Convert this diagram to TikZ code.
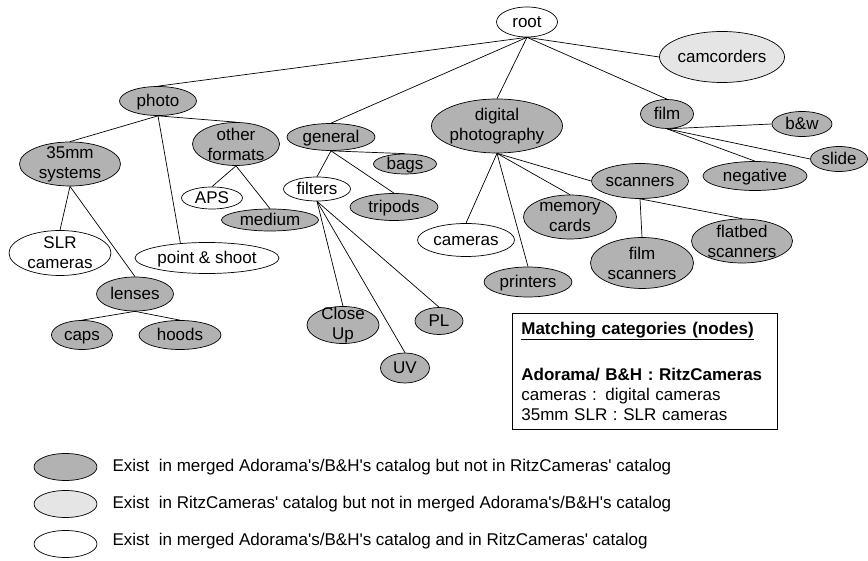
\documentclass[tikz,border=0pt]{standalone}
\usepackage{fontspec}
\setmainfont{Liberation Sans}
\usetikzlibrary{positioning,shapes.geometric}
\definecolor{catdark}{gray}{0.70}
\definecolor{catlight}{gray}{0.90}
\tikzset{
    %Define style for category nodes
    catnode/.style={
             ellipse,
             draw=black, line width=0.7pt,
             inner xsep=-8pt, inner ysep=-6pt,
             text height=13pt, text depth=2.5pt,
             align=center},
    mergednode/.style={catnode, fill=catdark},
    ritznode/.style={catnode, fill=catlight},
    bothnode/.style={catnode, fill=white},
    twolines/.style={text height=, text depth=},
    dims/.style 2 args={minimum width=#1, minimum height=#2},
    % Define line style
    catline/.style={
            line width=0.7pt},
    % Define style for the matching box and the legend
    keybox/.style={
             draw=black, line width=0.7pt,
             align=left, anchor=north west,
             text width=247pt, inner xsep=9pt,
             minimum height=116pt},
    keytext/.style={inner sep=0pt}
}

\begin{document}
\begin{tikzpicture}[x=1pt, y=1pt, on grid, font=\fontsize{17}{20}\selectfont]
 \useasboundingbox (0,0) rectangle (868,-561);
 \node[bothnode, dims={61pt}{30pt}] (root) at (527,-22) {root};
 \node[ritznode, dims={125pt}{51pt}, below right=35pt and 195pt of root] (camcorders) {camcorders};
 \node[mergednode, dims={77pt}{29pt}, below left=79pt and 369pt of root] (photo) {photo};
 \node[mergednode, dims={88pt}{27pt}, below left=115pt and 196pt of root] (general) {general};
 \node[mergednode, twolines, dims={131pt}{54pt}, below left=104pt and 30pt of root] (digital) {digital\\photography};
 \node[mergednode, dims={53pt}{29pt}, below right=92pt and 140pt of root] (film) {film};
 % photo
 \node[mergednode, twolines, dims={101pt}{44pt}, below left=63pt and 88pt of photo] (systems) {35mm\\systems};
 \node[mergednode, twolines, dims={87pt}{43pt}, below right=43pt and 78pt of photo] (formats) {other\\formats};
 \node[bothnode, dims={144pt}{31pt}, below right=157pt and 49pt of photo] (pointshoot) {point \& shoot};
 \node[bothnode, twolines, dims={102pt}{45pt}, below left=89pt and 10pt of systems] (slr) {SLR\\cameras};
 \node[mergednode, dims={77pt}{34pt}, below right=130pt and 65pt of systems] (lenses) {lenses};
 \node[mergednode, dims={61pt}{29pt}, below left=41pt and 53pt of lenses] (caps) {caps};
 \node[mergednode, dims={82pt}{29pt}, below right=41pt and 45pt of lenses] (hoods) {hoods};
 \node[bothnode, dims={61pt}{22pt}, below left=54pt and 24pt of formats] (aps) {APS};
 \node[mergednode, dims={97pt}{22pt}, below right=76pt and 34pt of formats] (medium) {medium};
 % general
 \node[mergednode, dims={63pt}{20pt}, below right=27pt and 74pt of general] (bags) {bags};
 \node[bothnode, dims={67pt}{24pt}, below left=52pt and 14pt of general] (filters) {filters};
 \node[mergednode, dims={88pt}{27pt}, below right=70pt and 63pt of general] (tripods) {tripods};
 \node[mergednode, twolines, dims={72pt}{37pt}, below right=136pt and 26pt of filters] (closeup) {Close\\Up};
 \node[mergednode, dims={49pt}{30pt}, below right=179pt and 88pt of filters] (uv) {UV};
 \node[mergednode, dims={48pt}{27pt}, below right=132pt and 122pt of filters] (pl) {PL};
 % digital photography
 \node[bothnode, dims={97pt}{33pt}, below left=114pt and 31pt of digital] (cameras) {cameras};
 \node[mergednode, dims={88pt}{30pt}, below right=156pt and 31pt of digital] (printers) {printers};
 \node[mergednode, twolines, dims={93pt}{44pt}, below right=91pt and 73pt of digital] (memory) {memory\\cards};
 \node[mergednode, dims={97pt}{35pt}, below right=55pt and 143pt of digital] (scanners) {scanners};
 \node[mergednode, twolines, dims={103pt}{51pt}, below right=82pt and 2pt of scanners] (filmscan) {film\\scanners};
 \node[mergednode, twolines, dims={101pt}{44pt}, below right=60pt and 102pt of scanners] (flatbed) {flatbed\\scanners};
 % film
 \node[mergednode, dims={60pt}{25pt}, below right=10pt and 135pt of film] (bw) {b\&w};
 \node[mergednode, dims={57pt}{25pt}, below right=45pt and 172pt of film] (slide) {slide};
 \node[mergednode, dims={104pt}{29pt}, below right=62pt and 88pt of film] (negative) {negative};
 \path (root.south) edge[catline] (photo.north)
       (root.south) edge[catline] (general.north)
       (root.south) edge[catline] (digital.north)
       (root.south) edge[catline] (film.north)
       (root.south) edge[catline] (camcorders.west)
       (photo.south) edge[catline] (systems.north)
       (photo.south) edge[catline] (formats.north)
       (photo.south) edge[catline] (pointshoot.151)
       (systems.south) edge[catline] (slr.north)
       (systems.south) edge[catline] (lenses.north)
       (lenses.south) edge[catline] (caps.north)
       (lenses.south) edge[catline] (hoods.north)
       (formats.south) edge[catline] (aps.north)
       (formats.south) edge[catline] (medium.north)
       (general.south) edge[catline] (bags.north)
       (general.south) edge[catline] (filters.north)
       (general.south) edge[catline] (tripods.north)
       (filters.south) edge[catline] (closeup.north)
       (filters.south) edge[catline] (uv.north)
       (filters.south) edge[catline] (pl.north)
       (digital.south) edge[catline] (cameras.north)
       (digital.south) edge[catline] (printers.north)
       (digital.south) edge[catline] (memory.north)
       (digital.south) edge[catline] (scanners.west)
       (scanners.south) edge[catline] (filmscan.north)
       (scanners.south) edge[catline] (flatbed.north)
       (film.south) edge[catline] (bw.west)
       (film.south) edge[catline] (slide.west)
       (film.south) edge[catline] (negative.north);
 % matching box
 \node[keybox] (matching) at (512,-313) {\underline{\textbf{Matching categories (nodes)}}\\[26pt]
   \textbf{Adorama/ B\&H : RitzCameras}\\
   cameras : digital cameras\\
   35mm SLR : SLR cameras};
 % legend
 \node[mergednode, inner sep=0pt, dims={63pt}{27pt}] (keymerged) at (65.5,-467) {};
 \node[ritznode, inner sep=0pt, dims={63pt}{27pt}, below=37pt of keymerged] (keyritz) {};
 \node[bothnode, inner sep=0pt, dims={63pt}{27pt}, below=40pt of keyritz] (keyboth) {};
 \node[keytext, right=15pt of keymerged.east, anchor=west] (txtmerged) {Exist\ \ in merged Adorama\textquotesingle s/B\&H\textquotesingle s catalog but not in RitzCameras\textquotesingle\ catalog};
 \node[keytext, right=15pt of keyritz.east, anchor=west] (txtritz) {Exist\ \ in RitzCameras\textquotesingle\ catalog but not in merged Adorama\textquotesingle s/B\&H\textquotesingle s catalog};
 \node[keytext, right=15pt of keyboth.east, anchor=west, yshift=3pt] (txtboth) {Exist\ \ in merged Adorama\textquotesingle s/B\&H\textquotesingle s catalog and in RitzCameras\textquotesingle\ catalog};
\end{tikzpicture}
\end{document}
